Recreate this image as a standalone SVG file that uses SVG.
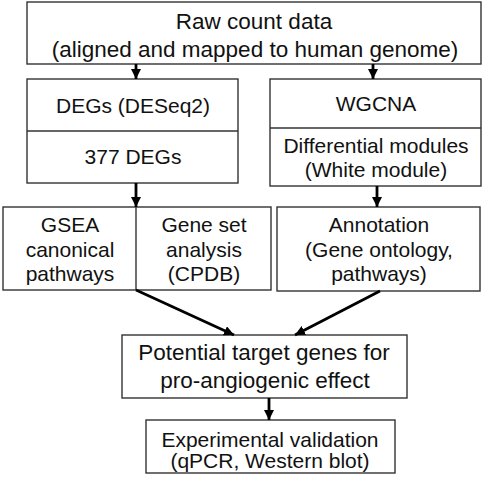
<svg xmlns="http://www.w3.org/2000/svg" width="484" height="484" viewBox="0 0 484 484">
<defs>
<style>
.box{fill:#fff;stroke:#333;stroke-width:1.4}
.div{stroke:#333;stroke-width:1.4}
text{font-family:"Liberation Sans",Arial,sans-serif;fill:#111;text-anchor:middle;font-size:21px}
.big{font-size:22.5px}
.arr{stroke:#000;stroke-width:2.8;fill:none;marker-end:url(#ah)}
</style>
<marker id="ah" viewBox="0 0 10 10" refX="10" refY="5" markerWidth="10" markerHeight="10" markerUnits="userSpaceOnUse" orient="auto">
<path d="M0,0 L10,5 L0,10 z" fill="#000"/>
</marker>
</defs>
<rect width="484" height="484" fill="#fff"/>
<g id="raw">
<rect class="box" x="27" y="2" width="454" height="62"/>
<text class="big" x="254" y="29">Raw count data</text>
<text class="big" x="255" y="57">(aligned and mapped to human genome)</text>
</g>
<g id="degs">
<rect class="box" x="27" y="79" width="211" height="104"/>
<line class="div" x1="27" y1="131" x2="238" y2="131"/>
<text x="133" y="113">DEGs (DESeq2)</text>
<text x="133" y="164">377 DEGs</text>
</g>
<g id="wgcna">
<rect class="box" x="270" y="79" width="211" height="107"/>
<line class="div" x1="270" y1="128" x2="481" y2="128"/>
<text x="376" y="111">WGCNA</text>
<text x="376" y="153">Differential modules</text>
<text x="376" y="177">(White module)</text>
</g>
<g id="gsea">
<rect class="box" x="3" y="207" width="268" height="83"/>
<line class="div" x1="136" y1="207" x2="136" y2="290"/>
<text x="70" y="232">GSEA</text>
<text x="70" y="257">canonical</text>
<text x="70" y="281">pathways</text>
<text x="204" y="232">Gene set</text>
<text x="204" y="257">analysis</text>
<text x="204" y="281">(CPDB)</text>
</g>
<g id="annotation">
<rect class="box" x="277" y="207" width="203" height="84"/>
<text x="379" y="232">Annotation</text>
<text x="379" y="257">(Gene ontology,</text>
<text x="379" y="281">pathways)</text>
</g>
<g id="potential">
<rect class="box" x="122" y="335" width="285" height="63"/>
<text class="big" x="264" y="360">Potential target genes for</text>
<text class="big" x="265" y="388">pro-angiogenic effect</text>
</g>
<g id="validation">
<rect class="box" x="146" y="420" width="249" height="53"/>
<text x="270" y="447">Experimental validation</text>
<text x="270" y="468">(qPCR, Western blot)</text>
</g>
<g id="connectors">
<line class="arr" x1="136" y1="64" x2="136" y2="79"/>
<line class="arr" x1="373" y1="64" x2="373" y2="79"/>
<line class="arr" x1="136" y1="183" x2="136" y2="207"/>
<line class="arr" x1="377" y1="186" x2="377" y2="207"/>
<line class="arr" x1="136" y1="290" x2="234" y2="335"/>
<line class="arr" x1="380" y1="291" x2="295" y2="335"/>
<line class="arr" x1="269" y1="398" x2="269" y2="420"/>
</g>
</svg>
